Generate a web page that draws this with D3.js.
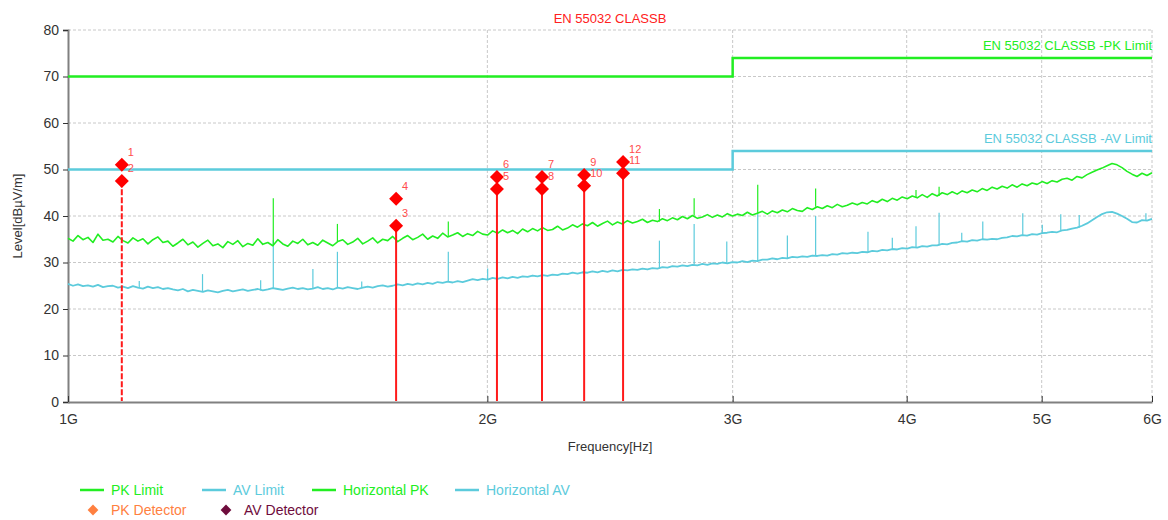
<!DOCTYPE html>
<html>
<head>
<meta charset="utf-8">
<script src="https://cdn.jsdelivr.net/npm/d3@7"></script>
<style>
  body { margin: 0; background: #fff; }
  svg { font-family: "Liberation Sans", Arial, sans-serif; }
</style>
</head>
<body>
<svg id="chart" width="1168" height="520"></svg>
<script>
// ---- data ----
const xTicks = [1e9, 2e9, 3e9, 4e9, 5e9, 6e9]
const xTickLabels = ['1G', '2G', '3G', '4G', '5G', '6G']
const yTicks = [0, 10, 20, 30, 40, 50, 60, 70, 80]

const limitFreqs = [1e9, 3e9, 3e9, 6e9]
const pkLimit = [70, 70, 74, 74]
const avLimit = [50, 50, 54, 54]

// sweep from 1G to 6G, points evenly spaced on the log axis
const sweepStart = 1e9
const sweepStop = 6e9

const horizontalPK = [
  35.2, 34.6, 35.8, 34.9, 35.4, 34.3, 36.1, 34.8, 35.0, 34.4, 35.6, 34.7, 34.2, 35.3, 34.6, 35.1, 34.0, 34.9, 35.5, 34.3,
  34.6, 33.5, 34.2, 35.0, 33.8, 34.4, 33.3, 34.1, 34.8, 33.6, 34.0, 33.2, 34.5, 33.9, 34.7, 33.4, 34.1, 33.7, 35.1, 33.9,
  34.3, 33.6, 34.9, 34.0, 33.5, 34.6, 34.1, 35.0, 33.8, 34.3, 33.7, 34.8, 34.2, 33.6, 34.5, 34.9, 33.9, 34.4, 35.2, 34.0,
  34.6, 35.3, 34.2, 35.0, 34.7, 35.6, 34.5, 35.2, 35.8, 34.9, 35.4, 36.1, 35.0, 35.7, 35.2, 36.3, 35.5, 35.9, 36.4, 35.6,
  36.2, 35.8, 36.7, 36.1, 35.9, 36.8, 36.3, 37.0, 36.4, 36.9, 36.2, 37.2, 36.6, 37.3, 36.8, 37.5, 36.9, 37.1, 37.8, 37.0,
  37.4, 38.1, 37.6, 38.3, 37.9, 38.6, 37.8, 38.4, 38.9, 38.1, 38.7, 38.3, 39.0, 38.5, 38.8, 39.3, 38.6, 39.1, 38.8, 39.4,
  39.0, 39.6, 39.2, 39.9, 39.4, 40.1, 39.5, 39.8, 40.3, 39.7, 40.2, 39.8, 40.5, 40.0, 40.4, 40.1, 40.8, 40.2, 40.6, 41.0,
  40.4, 41.1, 40.7, 41.3, 40.9, 41.6, 41.2, 41.0, 41.8, 41.4, 42.0, 41.6, 42.2, 41.8, 42.5, 42.0, 42.3, 42.8, 42.4, 42.9,
  42.6, 43.3, 42.9, 43.6, 43.1, 43.8, 43.4, 44.1, 43.7, 44.3, 43.9, 44.6, 44.0, 44.8, 44.3, 45.0, 44.6, 45.2, 44.7, 45.4,
  45.0, 45.6, 45.2, 45.9, 45.5, 46.2, 45.8, 46.4, 46.0, 46.7, 46.2, 46.9, 46.5, 47.1, 46.8, 47.4, 47.0, 47.6, 47.3, 47.9,
  48.1, 47.7, 48.5, 48.2, 48.9, 49.4, 49.9, 50.3, 50.8, 51.3, 51.0, 50.4, 49.6, 49.0, 48.5, 49.2, 48.7, 49.3
]

const horizontalAV = [
  25.4, 25.0, 25.3, 24.9, 25.1, 24.8, 25.2, 24.7, 24.9, 25.0, 24.6, 24.8, 24.5, 24.9, 24.6, 24.4, 24.8, 24.5, 24.7, 24.3,
  24.5, 24.2, 24.0, 24.3, 23.8, 24.1, 23.9, 23.7, 24.0, 23.8, 23.6, 23.9, 24.1, 23.8, 24.0, 24.2, 23.9, 24.1, 24.3, 24.0,
  24.2, 24.5, 24.3, 24.1, 24.4, 24.6, 24.3, 24.5, 24.2, 24.4, 24.7, 24.3, 24.5, 24.2, 24.6, 24.4, 24.7, 24.5, 24.3, 24.6,
  24.8, 24.6, 24.9, 25.1, 24.8, 25.0, 25.3, 25.1, 25.4, 25.2, 25.5, 25.3, 25.6, 25.4, 25.8, 25.6, 25.9, 25.7, 26.0, 25.8,
  26.1, 26.4, 26.2, 26.5, 26.3, 26.7, 26.5, 26.8, 26.6, 26.9, 26.7, 27.0, 26.9, 27.2, 27.0, 27.3, 27.1, 27.4, 27.3, 27.6,
  27.5, 27.8, 27.6, 27.9, 27.8, 28.1, 27.9, 28.2, 28.0, 28.3, 28.1, 28.4, 28.3, 28.5, 28.4, 28.7, 28.5, 28.8, 28.7, 29.0,
  28.9, 29.2, 29.1, 29.4, 29.2, 29.5, 29.4, 29.7, 29.5, 29.8, 29.7, 30.0, 29.8, 30.1, 30.0, 30.3, 30.1, 30.4, 30.3, 30.6,
  30.6, 30.9, 30.7, 31.0, 30.9, 31.2, 31.1, 31.3, 31.2, 31.5, 31.4, 31.6, 31.5, 31.8, 31.7, 32.0, 31.9, 32.1, 32.0, 32.3,
  32.2, 32.5, 32.4, 32.7, 32.6, 32.9, 32.8, 33.1, 33.0, 33.3, 33.2, 33.5, 33.4, 33.7, 33.7, 34.0, 33.9, 34.2, 34.3, 34.6,
  34.5, 34.8, 34.7, 35.0, 34.9, 35.1, 35.0, 35.3, 35.4, 35.7, 35.6, 35.9, 35.8, 36.1, 36.0, 36.3, 36.4, 36.6, 36.5, 36.9,
  37.0, 37.3, 37.5, 37.9, 38.4, 39.1, 39.8, 40.4, 40.8, 40.9, 40.5, 40.0, 39.4, 38.7, 38.6, 39.1, 39.0, 39.4
]

// narrow spikes sitting on the traces
const pkSpikeFreqs = [1.404e9, 1.561e9, 1.875e9, 2.658e9, 2.815e9, 3.127e9, 3.441e9, 4.062e9, 4.22e9]
const pkSpikePeaks = [43.8, 38.3, 38.8, 41.5, 43.8, 46.7, 45.9, 45.6, 46.3]
const avSpikeFreqs = [1.125e9, 1.249e9, 1.375e9, 1.404e9, 1.499e9, 1.561e9, 1.625e9, 1.875e9, 2.001e9, 2.658e9,
  2.815e9, 2.971e9, 3.127e9, 3.284e9, 3.441e9, 3.752e9, 3.906e9, 4.062e9, 4.22e9, 4.381e9, 4.536e9, 4.846e9,
  5.005e9, 5.16e9, 5.32e9, 5.94e9]
const avSpikePeaks = [26.0, 27.5, 26.2, 34.8, 28.6, 32.3, 25.9, 32.3, 28.7, 34.7,
  38.3, 34.5, 40.6, 35.8, 40.0, 36.6, 35.3, 37.8, 40.7, 36.4, 38.8, 40.6,
  38.1, 40.4, 40.2, 40.6]

// detector markers
const markerLabels = ['1', '2', '3', '4', '5', '6', '7', '8', '9', '10', '11', '12']
const markerFreqs = [1.093e9, 1.093e9, 1.72e9, 1.72e9, 2.032e9, 2.032e9, 2.189e9, 2.189e9, 2.347e9, 2.347e9, 2.503e9, 2.503e9]
const markerLevels = [51.0, 47.5, 37.9, 43.7, 45.8, 48.4, 48.4, 45.8, 48.8, 46.5, 49.2, 51.6]

const legendItems = [
  { name: 'PK Limit', color: '#22ee22', kind: 'line' },
  { name: 'AV Limit', color: '#5ccbdc', kind: 'line' },
  { name: 'Horizontal PK', color: '#22ee22', kind: 'line' },
  { name: 'Horizontal AV', color: '#5ccbdc', kind: 'line' },
  { name: 'PK Detector', color: '#ff8040', kind: 'diamond' },
  { name: 'AV Detector', color: '#6e0c3c', kind: 'diamond' }
]

// ---- drawing ----
const svg = d3.select('#chart')
const plotLeft = 68, plotRight = 1152, plotTop = 30, plotBottom = 402
const green = '#22ee22', cyan = '#5ccbdc'

const x = d3.scaleLog().domain([1e9, 6e9]).range([plotLeft, plotRight])
const y = d3.scaleLinear().domain([0, 80]).range([plotBottom, plotTop])

// grid
svg.append('g').selectAll('line')
  .data(yTicks.filter(d => d > 0))
  .enter().append('line')
  .attr('x1', plotLeft).attr('x2', plotRight)
  .attr('y1', d => y(d)).attr('y2', d => y(d))
  .attr('stroke', '#c8c8c8').attr('stroke-dasharray', '3,2')

svg.append('g').selectAll('line')
  .data(xTicks.slice(1))
  .enter().append('line')
  .attr('x1', d => x(d)).attr('x2', d => x(d))
  .attr('y1', plotTop).attr('y2', plotBottom)
  .attr('stroke', '#c8c8c8').attr('stroke-dasharray', '3,2')

// axes
const yAxis = svg.append('g')
  .attr('transform', `translate(${plotLeft},0)`)
  .call(d3.axisLeft(y).tickValues(yTicks).tickSize(5).tickPadding(4))
yAxis.select('.domain').attr('stroke', '#808080').attr('stroke-width', 2)
yAxis.selectAll('.tick line').attr('stroke', '#333')
yAxis.selectAll('text').attr('font-size', 14).attr('fill', '#333')
  .attr('font-family', '"Liberation Sans", Arial, sans-serif')

const xAxis = svg.append('g')
  .attr('transform', `translate(0,${plotBottom})`)
  .call(d3.axisBottom(x).tickValues(xTicks).tickFormat((d, i) => xTickLabels[i]).tickSizeInner(-6).tickSizeOuter(0).tickPadding(12))
xAxis.select('.domain').attr('stroke', '#808080').attr('stroke-width', 2)
xAxis.selectAll('.tick line').attr('stroke', '#333')
xAxis.selectAll('text').attr('font-size', 14).attr('fill', '#333')
  .attr('font-family', '"Liberation Sans", Arial, sans-serif')

svg.append('text')
  .attr('x', 610).attr('y', 451).attr('text-anchor', 'middle')
  .attr('font-size', 13).attr('fill', '#333')
  .text('Frequency[Hz]')

svg.append('text')
  .attr('transform', 'translate(22,216) rotate(-90)')
  .attr('text-anchor', 'middle')
  .attr('font-size', 13).attr('fill', '#333')
  .text('Level[dBµV/m]')

svg.append('text')
  .attr('x', 610).attr('y', 23).attr('text-anchor', 'middle')
  .attr('font-size', 13).attr('fill', '#ff2020')
  .text('EN 55032 CLASSB')

// traces
const sweepFreq = (i, n) => sweepStart * Math.pow(sweepStop / sweepStart, i / (n - 1))
const traceLine = d3.line().x((d, i, arr) => x(sweepFreq(i, arr.length))).y(d => y(d))

function nearestLevel(values, f) {
  const n = values.length
  const i = Math.round(Math.log(f / sweepStart) / Math.log(sweepStop / sweepStart) * (n - 1))
  return values[Math.max(0, Math.min(n - 1, i))]
}

function drawTrace(values, spikeFreqs, spikePeaks, color, width) {
  const g = svg.append('g')
  g.append('path')
    .attr('d', traceLine(values))
    .attr('fill', 'none').attr('stroke', color)
    .attr('stroke-width', width).attr('stroke-linejoin', 'round')
  g.selectAll('line')
    .data(spikeFreqs)
    .enter().append('line')
    .attr('x1', d => x(d)).attr('x2', d => x(d))
    .attr('y1', d => y(nearestLevel(values, d)))
    .attr('y2', (d, i) => y(spikePeaks[i]))
    .attr('stroke', color).attr('stroke-width', 1.2)
}

drawTrace(horizontalAV, avSpikeFreqs, avSpikePeaks, cyan, 1.8)
drawTrace(horizontalPK, pkSpikeFreqs, pkSpikePeaks, green, 1.6)

// limits
const limitLine = d3.line().x((d, i) => x(limitFreqs[i])).y(d => y(d))
svg.append('path').attr('d', limitLine(pkLimit))
  .attr('fill', 'none').attr('stroke', green).attr('stroke-width', 2.5)
svg.append('path').attr('d', limitLine(avLimit))
  .attr('fill', 'none').attr('stroke', cyan).attr('stroke-width', 2.5)

svg.append('text')
  .attr('x', plotRight).attr('y', y(pkLimit[3]) - 8).attr('text-anchor', 'end')
  .attr('font-size', 13).attr('fill', green)
  .text('EN 55032 CLASSB -PK Limit')
svg.append('text')
  .attr('x', plotRight).attr('y', y(avLimit[3]) - 8).attr('text-anchor', 'end')
  .attr('font-size', 13).attr('fill', cyan)
  .text('EN 55032 CLASSB -AV Limit')

// markers: stem from the lower diamond of each pair down to 0
const markerPairs = d3.range(0, markerFreqs.length, 2).map(i => ({
  f: markerFreqs[i],
  low: Math.min(markerLevels[i], markerLevels[i + 1]),
  first: i === 0
}))

svg.append('g').selectAll('line')
  .data(markerPairs)
  .enter().append('line')
  .attr('x1', d => x(d.f)).attr('x2', d => x(d.f))
  .attr('y1', d => y(d.low)).attr('y2', plotBottom - 1)
  .attr('stroke', '#ff1a1a').attr('stroke-width', 2)
  .attr('stroke-dasharray', d => d.first ? '6,2' : null)

// diamonds are squares turned 45 degrees
const diamond = d3.symbol().type(d3.symbolSquare).size(98)
const mg = svg.append('g')
mg.selectAll('path')
  .data(markerLevels)
  .enter().append('path')
  .attr('d', diamond)
  .attr('transform', (d, i) => `translate(${x(markerFreqs[i])},${y(d)}) rotate(45)`)
  .attr('fill', '#ff0000')

mg.selectAll('text')
  .data(markerLevels)
  .enter().append('text')
  .attr('x', (d, i) => x(markerFreqs[i]) + 6)
  .attr('y', d => y(d) - 9)
  .attr('font-size', 11).attr('fill', '#ff4d4d')
  .text((d, i) => markerLabels[i])

// legend
const legendPos = [[80, 490], [202, 490], [312, 490], [455, 490], [86, 510], [219, 510]]
const lg = svg.append('g')
legendItems.forEach((item, i) => {
  const [lx, ly] = legendPos[i]
  if (item.kind === 'line') {
    lg.append('line')
      .attr('x1', lx).attr('x2', lx + 24)
      .attr('y1', ly).attr('y2', ly)
      .attr('stroke', item.color).attr('stroke-width', 2.5)
  } else {
    lg.append('path')
      .attr('d', d3.symbol().type(d3.symbolSquare).size(58))
      .attr('transform', `translate(${lx + 7},${ly}) rotate(45)`)
      .attr('fill', item.color)
  }
  lg.append('text')
    .attr('x', lx + (item.kind === 'line' ? 31 : 25)).attr('y', ly + 5)
    .attr('font-size', 14).attr('fill', item.color)
    .text(item.name)
})
</script>
</body>
</html>
